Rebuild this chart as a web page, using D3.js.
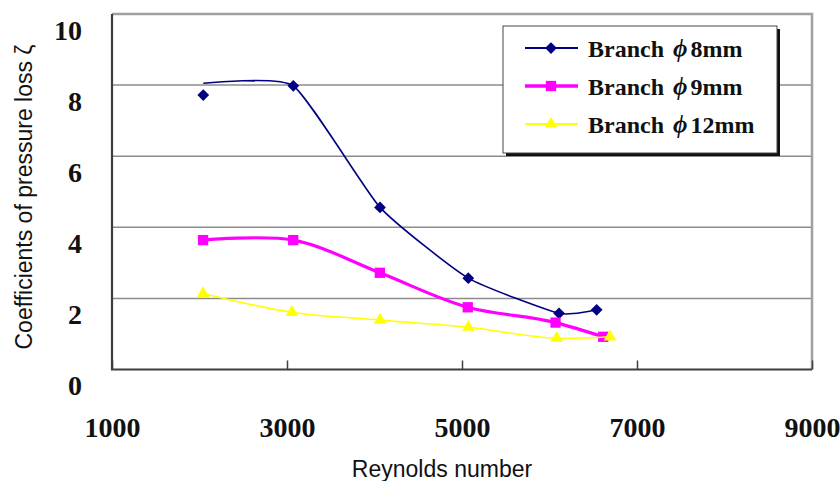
<!DOCTYPE html>
<html>
<head>
<meta charset="utf-8">
<script src="https://cdn.jsdelivr.net/npm/d3@7"></script>
<style>
  html, body { margin: 0; padding: 0; background: #ffffff; }
  svg { display: block; }
</style>
</head>
<body>
<svg id="chart" width="840" height="481"></svg>
<script>
// ---- data ----
const seriesLabel = "Branch";
const seriesPhi = "\u03D5";
const seriesSizes = ["8mm", "9mm", "12mm"];
const reynolds8 = [2043, 3072, 4063, 5072, 6109, 6539];
const zeta8 = [7.72, 7.98, 4.56, 2.57, 1.58, 1.68];
const zeta8Curve = [8.05, 7.98, 4.56, 2.57, 1.58, 1.68];
const reynolds9 = [2041, 3071, 4061, 5066, 6069, 6614];
const zeta9 = [3.64, 3.64, 2.72, 1.75, 1.32, 0.92];
const reynolds12 = [2041, 3054, 4063, 5072, 6082, 6691];
const zeta12 = [2.14, 1.61, 1.39, 1.19, 0.88, 0.92];
const xTicks = [1000, 3000, 5000, 7000, 9000];
const yTicks = [0, 2, 4, 6, 8, 10];
const yGrid = [2, 4, 6, 8];

// ---- layout ----
const svg = d3.select("#chart");
const X0 = 112, X1 = 812, Y0 = 369.5, Y1 = 14;
const x = d3.scaleLinear().domain([1000, 9000]).range([X0, X1]);
const y = d3.scaleLinear().domain([0, 10]).range([Y0, Y1]);

const serif = "'Liberation Serif', 'Times New Roman', serif";
const sans = "'Liberation Sans', Arial, sans-serif";

// gridlines
svg.append("g").selectAll("line").data(yGrid).join("line")
  .attr("x1", X0).attr("x2", X1)
  .attr("y1", d => y(d)).attr("y2", d => y(d))
  .attr("stroke", "#8c8c8c").attr("stroke-width", 1.5);

// frame: top & right gray
svg.append("path")
  .attr("d", `M${X0},${Y1}H${X1}V${Y0}`)
  .attr("fill", "none").attr("stroke", "#a0a0a0").attr("stroke-width", 2.5);

// x axis
const xAxis = svg.append("g").attr("transform", `translate(0,${Y0})`)
  .call(d3.axisBottom(x).tickValues(xTicks).tickSize(-9).tickSizeOuter(0).tickFormat(d3.format("d")));
xAxis.select(".domain").remove();
xAxis.selectAll(".tick line").attr("stroke", "#404040").attr("stroke-width", 1.5);
xAxis.selectAll(".tick text")
  .attr("y", 67).attr("dy", 0)
  .attr("font-family", serif).attr("font-weight", "bold").attr("font-size", 28)
  .attr("fill", "#111");

// y axis
const yAxis = svg.append("g").attr("transform", `translate(${X0},0)`)
  .call(d3.axisLeft(y).tickValues(yTicks).tickSize(0).tickFormat(d3.format("d")));
yAxis.select(".domain").remove();
yAxis.selectAll(".tick text")
  .attr("x", -30).attr("dy", 25)
  .attr("font-family", serif).attr("font-weight", "bold").attr("font-size", 28)
  .attr("fill", "#111");

// left & bottom axis lines
svg.append("path")
  .attr("d", `M${X0},${Y1}V${Y0}H${X1}`)
  .attr("fill", "none").attr("stroke", "#3c3c3c").attr("stroke-width", 2.2);

// axis titles
svg.append("text")
  .attr("x", 442).attr("y", 477).attr("text-anchor", "middle")
  .attr("font-family", sans).attr("font-size", 23).attr("fill", "#111")
  .text("Reynolds number");
svg.append("text")
  .attr("transform", "translate(32,197) rotate(-90)").attr("text-anchor", "middle")
  .attr("font-family", sans).attr("font-size", 23).attr("fill", "#111")
  .text("Coefficients of pressure loss \u03B6");

// ---- series ----
const line = d3.line().x(d => x(d[0])).y(d => y(d[1])).curve(d3.curveCatmullRom.alpha(1));
const line8 = d3.line().x(d => x(d[0])).y(d => y(d[1])).curve(d3.curveCardinal.tension(0.5));

const s8curve = reynolds8.map((r, i) => [r, zeta8Curve[i]]);
const s8 = reynolds8.map((r, i) => [r, zeta8[i]]);
const s9 = reynolds9.map((r, i) => [r, zeta9[i]]);
const s12 = reynolds12.map((r, i) => [r, zeta12[i]]);

const colors = ["#000080", "#ff00ff", "#ffff00"];
const widths = [1.6, 3.2, 1.6];
const symbols = [
  d3.symbol(d3.symbolDiamond2, 88)(),
  d3.symbol(d3.symbolSquare2, 135)(),
  d3.symbol(d3.symbolTriangle, 68)()
];

svg.append("path").datum(s8curve).attr("d", line8)
  .attr("fill", "none").attr("stroke", colors[0]).attr("stroke-width", widths[0]);
svg.append("g").selectAll("path").data(s8).join("path")
  .attr("transform", d => `translate(${x(d[0])},${y(d[1])})`)
  .attr("d", symbols[0]).attr("fill", colors[0]);

svg.append("path").datum(s9).attr("d", line)
  .attr("fill", "none").attr("stroke", colors[1]).attr("stroke-width", widths[1]);
svg.append("g").selectAll("path").data(s9).join("path")
  .attr("transform", d => `translate(${x(d[0])},${y(d[1])})`)
  .attr("d", symbols[1]).attr("fill", colors[1]);

svg.append("path").datum(s12).attr("d", line)
  .attr("fill", "none").attr("stroke", colors[2]).attr("stroke-width", widths[2]);
svg.append("g").selectAll("path").data(s12).join("path")
  .attr("transform", d => `translate(${x(d[0])},${y(d[1])})`)
  .attr("d", symbols[2]).attr("fill", colors[2]);

// ---- legend ----
const LX = 503, LY = 26, LW = 274, LH = 127;
svg.append("rect").attr("x", LX + 3).attr("y", LY + 3).attr("width", LW).attr("height", LH)
  .attr("fill", "#111");
svg.append("rect").attr("x", LX).attr("y", LY).attr("width", LW).attr("height", LH)
  .attr("fill", "#fff").attr("stroke", "#444").attr("stroke-width", 1);

const rowY = [48, 86, 124];
const lg = svg.append("g").selectAll("g").data(seriesSizes).join("g")
  .attr("transform", (d, i) => `translate(0,${rowY[i]})`);
lg.append("line").attr("x1", 525).attr("x2", 578).attr("y1", 0).attr("y2", 0)
  .attr("stroke", (d, i) => colors[i]).attr("stroke-width", (d, i) => widths[i] + 0.4);
lg.append("path").attr("transform", "translate(551,0)").attr("d", (d, i) => symbols[i])
  .attr("fill", (d, i) => colors[i]);
const lt = lg.append("text").attr("x", 588).attr("y", 8.5)
  .attr("font-family", serif).attr("font-weight", "bold").attr("font-size", 24).attr("fill", "#111");
lt.append("tspan").text(seriesLabel);
lt.append("tspan").attr("dx", 9).attr("font-style", "italic").attr("font-size", 25).text(seriesPhi);
lt.append("tspan").attr("dx", 3).text(d => d);
</script>
</body>
</html>
